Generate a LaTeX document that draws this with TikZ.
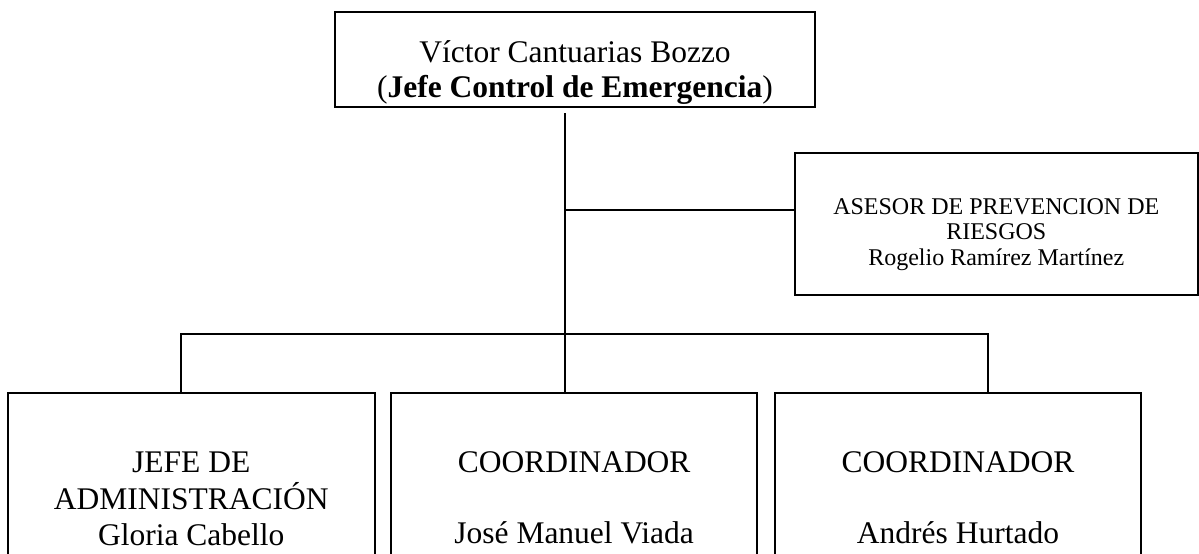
\documentclass[tikz,border=0pt]{standalone}
\usepackage{fontspec}
\setmainfont{Liberation Serif}
\begin{document}
\begin{tikzpicture}[x=1pt,y=-1pt,
  orgbox/.style={draw, line width=2pt, rectangle, inner sep=0pt, anchor=base},
  big/.style={font=\fontsize{31.5}{35.5}\selectfont},
  small/.style={font=\fontsize{24}{25.5}\selectfont},
  conn/.style={line width=2pt}]
\clip (0,0) rectangle (1199,554);
\fill[white] (0,0) rectangle (1199,554);
% top box
\node[orgbox, big, minimum width=480pt, text height=50pt, text depth=45pt] (top) at (575,62)
  {\begin{tabular}[t]{@{}c@{}}Víctor Cantuarias Bozzo\\(\textbf{Jefe Control de Emergencia})\end{tabular}};
% adviser box
\node[orgbox, small, minimum width=402.5pt, text height=61pt, text depth=81pt] (ases) at (996.25,214)
  {\begin{tabular}[t]{@{}c@{}}ASESOR DE PREVENCION DE\\RIESGOS\\Rogelio Ramírez Martínez\end{tabular}};
% bottom boxes
\node[orgbox, big, minimum width=366.5pt, text height=79pt, text depth=150pt] (left) at (191.25,472)
  {\begin{tabular}[t]{@{}c@{}}JEFE DE\\ADMINISTRACIÓN\\Gloria Cabello\end{tabular}};
\node[orgbox, big, minimum width=366.3pt, text height=79pt, text depth=150pt] (mid) at (574.15,472)
  {\begin{tabular}[t]{@{}c@{}}COORDINADOR\\ \\José Manuel Viada\end{tabular}};
\node[orgbox, big, minimum width=366pt, text height=79pt, text depth=150pt] (right) at (958,472)
  {\begin{tabular}[t]{@{}c@{}}COORDINADOR\\ \\Andrés Hurtado\end{tabular}};
% connectors
\coordinate (c0) at (565,113);
\coordinate (c1) at (565,210);
\coordinate (bl) at (181,334);
\coordinate (br) at (988,334);
\draw[conn] (c0) -- (c0 |- mid.north);
\draw[conn] (c1) -- (c1 -| ases.west);
\draw[conn] (bl |- left.north) -- (bl) -- (br) -- (br |- right.north);
\end{tikzpicture}
\end{document}
